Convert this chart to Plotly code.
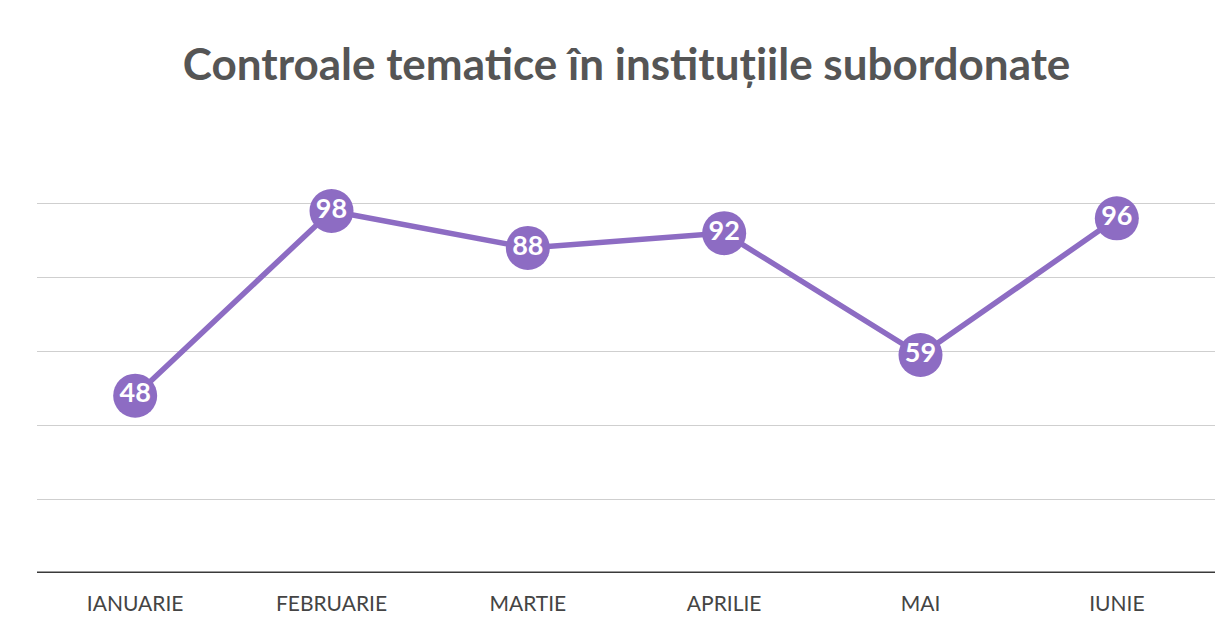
import plotly.graph_objects as go

months = ["IANUARIE", "FEBRUARIE", "MARTIE", "APRILIE", "MAI", "IUNIE"]
values = [48, 98, 88, 92, 59, 96]
title_text = "Controale tematice în instituțiile subordonate"

purple = "#8d6cc3"

fig = go.Figure()
fig.add_trace(go.Scatter(
    x=months, y=values,
    mode="lines+markers+text",
    line=dict(color=purple, width=5.5),
    marker=dict(size=44, color=purple, line=dict(width=0)),
    text=[str(v) for v in values],
    textposition="middle center",
    textfont=dict(family="Lato", size=27, color="white", weight="bold"),
    cliponaxis=False,
    hoverinfo="skip",
))

fig.update_layout(
    width=1225, height=633,
    margin=dict(l=29, r=18, t=118, b=68),
    paper_bgcolor="white", plot_bgcolor="white",
    showlegend=False,
    title=dict(text=title_text, x=0.505, xanchor="center", y=0.91, yanchor="middle",
               font=dict(family="Lato", size=44, color="#555555", weight="bold")),
    xaxis=dict(range=[-0.5, 5.5], showgrid=False, zeroline=False, showline=False,
               tickfont=dict(family="Lato", size=21, color="#444444"),
               ticks="", ticklabelstandoff=16, fixedrange=True),
    yaxis=dict(range=[0, 121], tickvals=[20, 40, 60, 80, 100], showticklabels=False,
               gridcolor="#cfcfcf", gridwidth=1, zeroline=False, showline=False,
               fixedrange=True),
)
fig.add_hline(y=0, line=dict(color="#3a3a3a", width=3))

fig.write_html("out.html")
